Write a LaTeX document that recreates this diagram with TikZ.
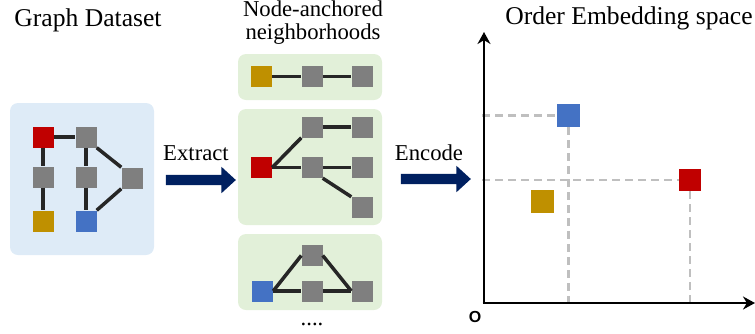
\documentclass[tikz,border=0pt]{standalone}
\usepackage{fontspec}
\setmainfont{Liberation Serif}
\newfontfamily\axisfont{Liberation Sans}
\usetikzlibrary{shapes.arrows,arrows.meta}
\definecolor{vred}{HTML}{C00000}
\definecolor{vgray}{HTML}{7F7F7F}
\definecolor{vyellow}{HTML}{BF9000}
\definecolor{vblue}{HTML}{4472C4}
\definecolor{paneblue}{HTML}{DEEBF7}
\definecolor{panegreen}{HTML}{E2F0D9}
\definecolor{navy}{HTML}{002060}
\definecolor{edgecol}{HTML}{262626}
\definecolor{guidecol}{HTML}{BFBFBF}

\begin{document}
\begin{tikzpicture}[x=1pt,y=-1pt]

		\tikzstyle{title}=[font=\fontsize{25.6}{28}\selectfont,inner sep=0]
		\tikzstyle{label}=[font=\fontsize{22.7}{23}\selectfont,inner sep=0,align=center]
		\tikzstyle{panel}=[rectangle,rounded corners=8pt,minimum width=144pt,inner sep=0]
		\tikzstyle{vtx}=[rectangle,minimum size=21pt,inner sep=0]
		\tikzstyle{pt}=[rectangle,minimum size=23pt,inner sep=0]
		\tikzstyle{edge}=[line width=3.5pt,draw=edgecol]
		\tikzstyle{bigarrow}=[single arrow,fill=navy,inner xsep=0,inner ysep=5pt,
			minimum height=70pt,single arrow head extend=8pt,single arrow tip angle=85]
		\tikzstyle{guide}=[line width=2.5pt,draw=guidecol,dash pattern=on 8pt off 5pt]
		\tikzstyle{axis}=[line width=2.7pt,-{Stealth[length=12pt,width=13pt]}]

		\useasboundingbox (0,0) rectangle (755,333);

		\node[title]	(tdata)	at (88,20)	{Graph Dataset};
		\node[label]	(tnbr)	at (313,23)	{Node-anchored\\neighborhoods};
		\node[title]	(temb)	at (629,18)	{Order Embedding space};

		\node[panel,fill=paneblue,minimum height=152pt]	(data)	at (82,179)	{};
		\node[vtx,fill=vred]	(d1)	at (43,137)	{};
		\node[vtx,fill=vgray]	(d2)	at (86,137)	{};
		\node[vtx,fill=vgray]	(d3)	at (43,177)	{};
		\node[vtx,fill=vgray]	(d4)	at (86,177)	{};
		\node[vtx,fill=vgray]	(d5)	at (132,178)	{};
		\node[vtx,fill=vyellow]	(d6)	at (43,221)	{};
		\node[vtx,fill=vblue]	(d7)	at (86,221)	{};
		\draw[edge] (d1) -- (d2);
		\draw[edge] (d1) -- (d3);
		\draw[edge] (d3) -- (d6);
		\draw[edge] (d2) -- (d4);
		\draw[edge] (d4) -- (d7);
		\draw[edge] (d2.south east) -- (d5.north west);
		\draw[edge] (d5.south west) -- (d7.north east);

		\node[panel,fill=panegreen,minimum height=46pt]	(nbra)	at (310,77)	{};
		\node[vtx,fill=vyellow]	(a1)	at (261.5,76.5)	{};
		\node[vtx,fill=vgray]	(a2)	at (312,76.5)	{};
		\node[vtx,fill=vgray]	(a3)	at (362,76.5)	{};
		\draw[edge] (a1) -- (a2);
		\draw[edge] (a2) -- (a3);

		\node[panel,fill=panegreen,minimum height=116pt]	(nbrb)	at (310,167)	{};
		\node[vtx,fill=vgray]	(b1)	at (312,127)	{};
		\node[vtx,fill=vgray]	(b2)	at (362,127)	{};
		\node[vtx,fill=vred]	(b3)	at (261.5,167.5)	{};
		\node[vtx,fill=vgray]	(b4)	at (312,167.5)	{};
		\node[vtx,fill=vgray]	(b5)	at (362,167.5)	{};
		\node[vtx,fill=vgray]	(b6)	at (362,207.5)	{};
		\draw[edge] (b3.east) -- (b1.south west);
		\draw[edge] (b3) -- (b4);
		\draw[edge] (b1) -- (b2);
		\draw[edge] (b4) -- (b5);
		\draw[edge] (b4.south east) -- (b6.north west);

		\node[panel,fill=panegreen,minimum height=76pt]	(nbrc)	at (310,272)	{};
		\node[vtx,fill=vgray]	(c1)	at (312,255.5)	{};
		\node[vtx,fill=vblue]	(c2)	at (262.5,291)	{};
		\node[vtx,fill=vgray]	(c3)	at (312,291)	{};
		\node[vtx,fill=vgray]	(c4)	at (362,291)	{};
		\draw[edge] (c2.east) -- (c1.west);
		\draw[edge] (c2) -- (c3);
		\draw[edge] (c3) -- (c4);
		\draw[edge] (c1.east) -- (c4.west);
		\node[label,anchor=base]	(more)	at (312,325)	{....};

		\node[bigarrow]	(extract)	at (198,180)	{};
		\node[label]	(textract)	at (196,153)	{Extract};
		\node[bigarrow]	(encode)	at (433,179)	{};
		\node[label]	(tencode)	at (429,153)	{Encode};

		\coordinate (origin) at (484,303);
		\coordinate (ytop) at (484,32);
		\coordinate (xend) at (755,303);
		\node[pt,fill=vblue]	(pb)	at (568.5,115.5)	{};
		\node[pt,fill=vred,minimum size=22pt]	(pr)	at (690,180)	{};
		\node[pt,fill=vyellow]	(py)	at (542,201.5)	{};
		\draw[guide] (482,115.5) -- (pb.west);
		\draw[guide] (pb.south) -- (pb |- origin);
		\draw[guide] (482,180) -- (pr.west);
		\draw[guide] (pr.south) -- (pr |- origin);
		\draw[axis] ([yshift=1.35pt]origin) -- (ytop);
		\draw[axis] ([xshift=-1.35pt]origin) -- (xend);
		\node[font=\axisfont\bfseries\fontsize{16}{16}\selectfont,inner sep=0]	(o)	at (475,316.5)	{O};

	\end{tikzpicture}
\end{document}
